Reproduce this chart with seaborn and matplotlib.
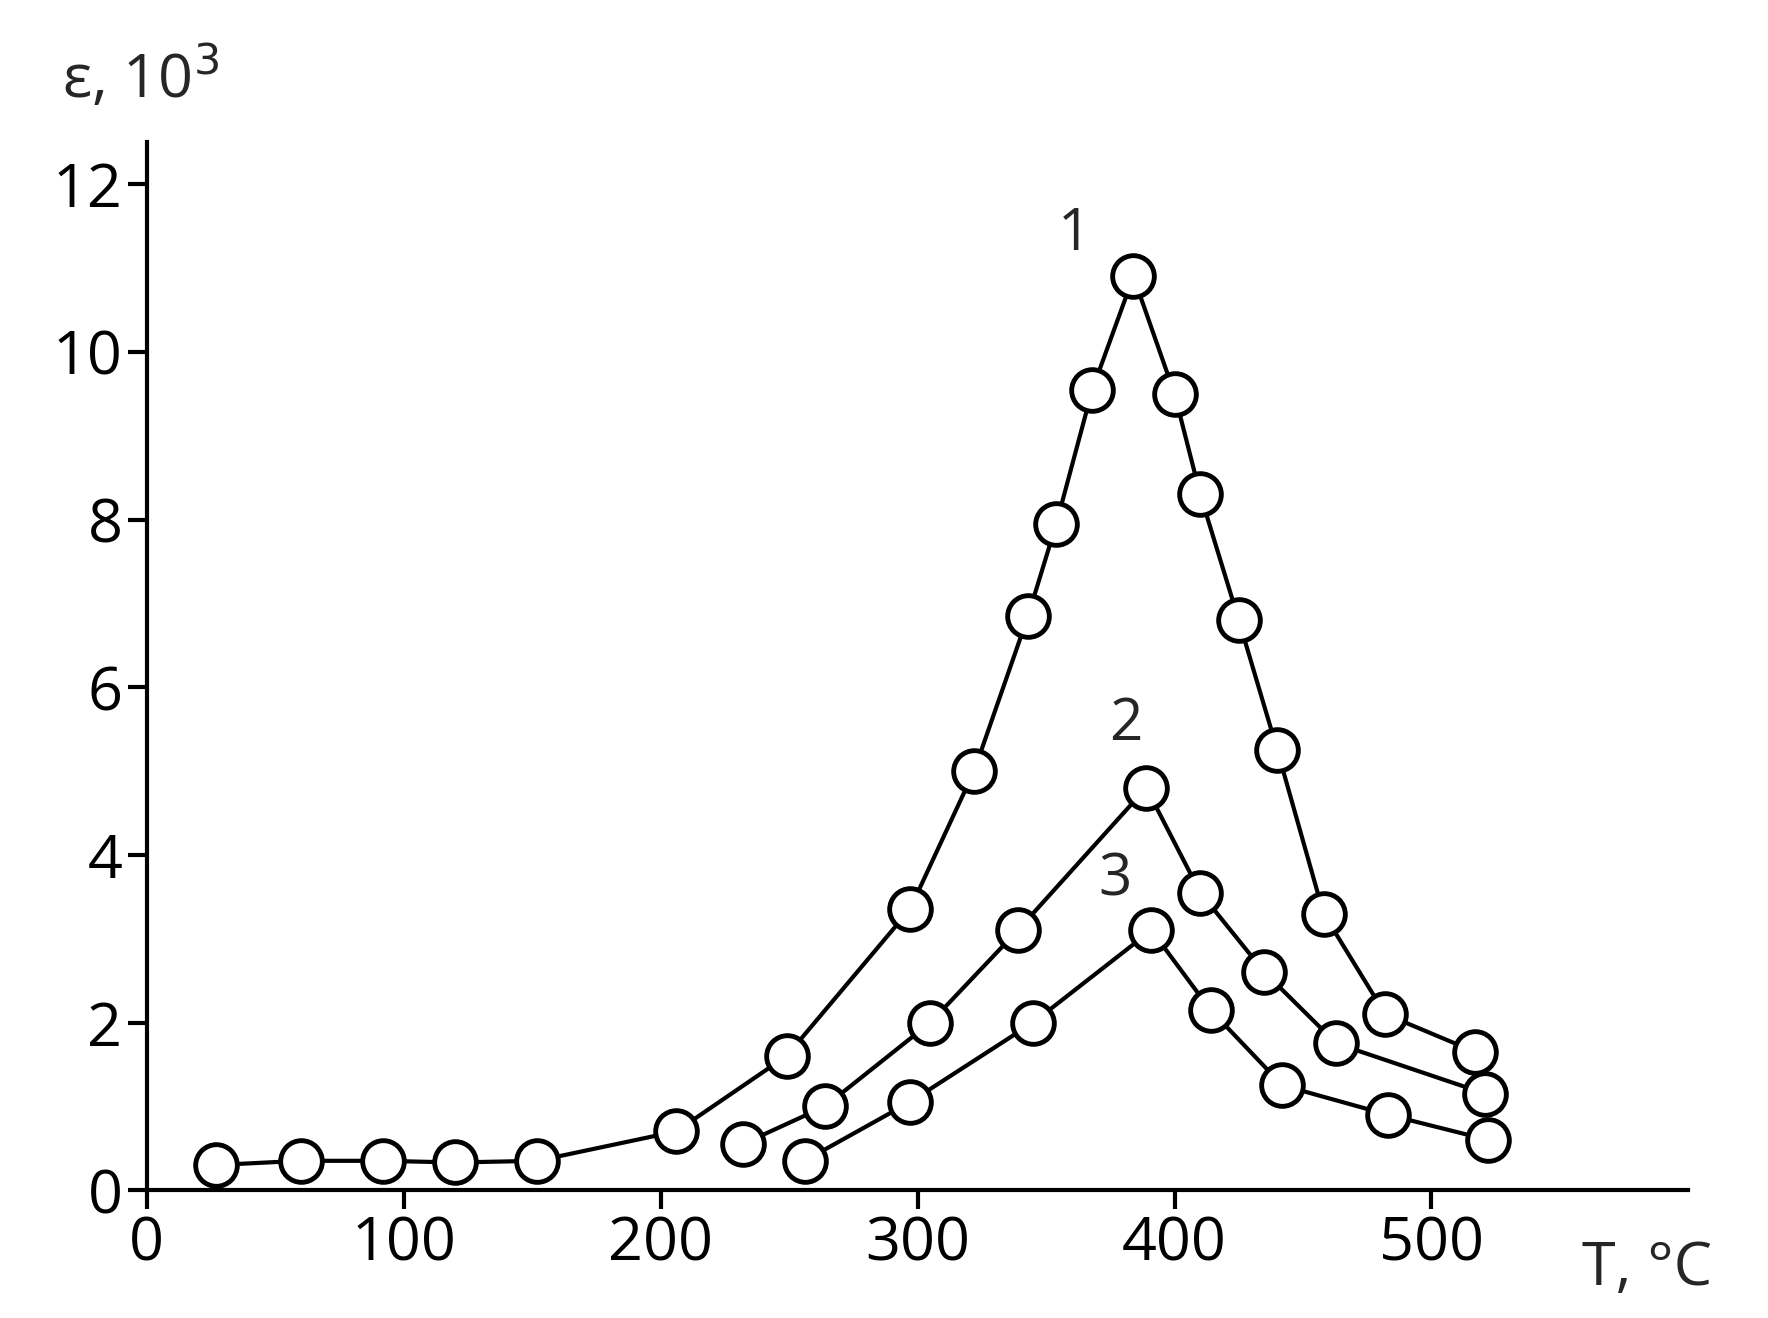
import matplotlib
matplotlib.use("Agg")
import matplotlib.pyplot as plt
import seaborn as sns
import pandas as pd

sns.set_theme(style="white")
plt.rcParams['font.family'] = ['Open Sans', 'DejaVu Sans']

# curve 1
t1 = [27, 60, 92, 120, 152, 206, 249, 297, 322, 343, 354, 368, 384, 400, 410, 425, 440, 458, 482, 517]
e1 = [0.3, 0.35, 0.35, 0.33, 0.35, 0.7, 1.6, 3.35, 5.0, 6.85, 7.95, 9.55, 10.9, 9.5, 8.3, 6.8, 5.25, 3.3, 2.1, 1.65]
# curve 2
t2 = [232, 264, 305, 339, 389, 410, 435, 463, 521]
e2 = [0.55, 1.0, 2.0, 3.1, 4.8, 3.55, 2.6, 1.75, 1.15]
# curve 3
t3 = [256, 297, 345, 391, 414, 442, 483, 522]
e3 = [0.35, 1.05, 2.0, 3.1, 2.15, 1.25, 0.9, 0.6]

curve_labels = ["1", "2", "3"]
label_pos = [(361, 11.4), (381, 5.55), (377, 3.7)]

fig = plt.figure(figsize=(17.68, 13.18), dpi=100)
ax = fig.add_axes([0.083, 0.097, 0.872, 0.795])

for t, e in [(t1, e1), (t2, e2), (t3, e3)]:
    df = pd.DataFrame({"T": t, "eps": e})
    sns.lineplot(data=df, x="T", y="eps", ax=ax, color="black", linewidth=3,
                 marker="o", markersize=30, markerfacecolor="white",
                 markeredgecolor="black", markeredgewidth=3.5, zorder=3)

for lab, (x, y) in zip(curve_labels, label_pos):
    ax.text(x, y, lab, fontsize=42, ha="center", va="center")

ax.set_xlim(0, 600)
ax.set_ylim(0, 12.5)
ax.set_xticks([0, 100, 200, 300, 400, 500])
ax.set_yticks([0, 2, 4, 6, 8, 10, 12])
ax.set_xlabel("")
ax.set_ylabel("")
ax.tick_params(axis="both", labelsize=44, length=14, width=3, direction="out",
               color="black", labelcolor="black", bottom=True, left=True)
for s in ["top", "right"]:
    ax.spines[s].set_visible(False)
for s in ["left", "bottom"]:
    ax.spines[s].set_linewidth(3)
    ax.spines[s].set_color("black")

fig.text(0.035, 0.94, "ε, 10$^3$", fontsize=44, va="center", ha="left")
fig.text(0.895, 0.037, "T, °C", fontsize=44, va="center", ha="left")

fig.savefig("out.png", dpi=100)
